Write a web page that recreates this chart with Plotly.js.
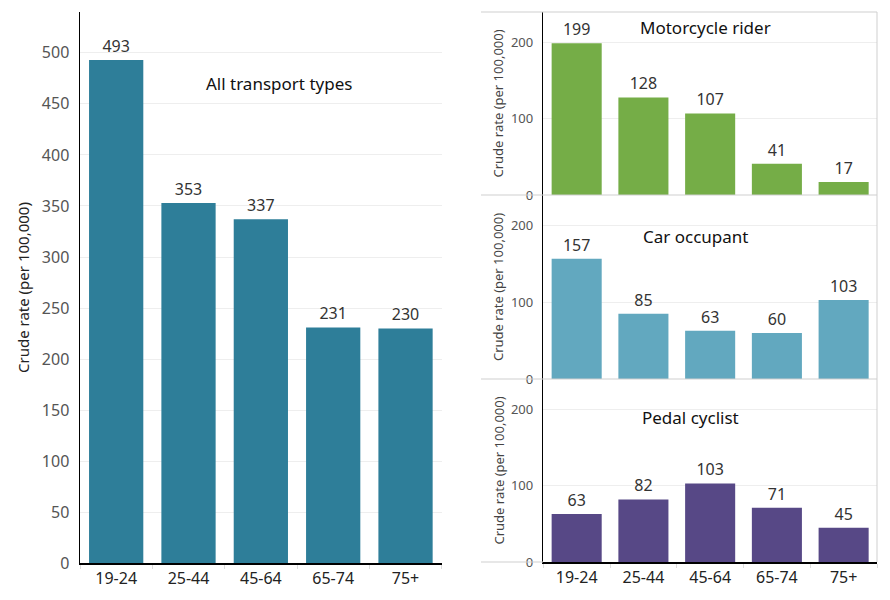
<!DOCTYPE html>
<html><head><meta charset="utf-8">
<script src="https://cdn.plot.ly/plotly-3.0.1.min.js"></script>
<style>body{margin:0;background:#fff;} #chart{width:890px;height:600px;}</style>
</head><body><div id="chart"></div>
<script>
// ---- data ----
const ageGroups = ['19-24', '25-44', '45-64', '65-74', '75+'];
const allTransport = [493, 353, 337, 231, 230];
const motorcycleRider = [199, 128, 107, 41, 17];
const carOccupant = [157, 85, 63, 60, 103];
const pedalCyclist = [63, 82, 103, 71, 45];
const leftTicks = [0, 50, 100, 150, 200, 250, 300, 350, 400, 450, 500];
const rightTicks = [0, 100, 200];
const panelTitles = ['All transport types', 'Motorcycle rider', 'Car occupant', 'Pedal cyclist'];
const yTitle = 'Crude rate (per 100,000)';

const FONT = 'Noto Sans, Open Sans, sans-serif';
const W = 890, H = 600;
const px = v => v / W;
const py = v => 1 - v / H;

function barTrace(y, color, xa, ya) {
  return {
    type: 'bar', x: ageGroups, y: y, xaxis: xa, yaxis: ya,
    marker: {color: color},
    text: y.map(String), textposition: 'outside',
    textfont: {family: FONT, size: 16, color: '#333'},
    cliponaxis: false, hoverinfo: 'skip', showlegend: false
  };
}

const data = [
  barTrace(allTransport, '#2E7E99', 'x', 'y'),
  barTrace(motorcycleRider, '#75AD47', 'x2', 'y2'),
  barTrace(carOccupant, '#62A8BF', 'x3', 'y3'),
  barTrace(pedalCyclist, '#574886', 'x4', 'y4')
];

const leftDom = [px(80), px(441.7)];
const rightDom = [px(543.3), px(877)];
const p1 = [py(195), py(12)];
const p2 = [py(379), py(195)];
const p3 = [py(562), py(379)];

function xAxis(domain, anchor, showLabels) {
  return {
    domain: domain, anchor: anchor, type: 'category', automargin: false,
    showticklabels: showLabels,
    tickfont: {family: FONT, size: 16, color: '#222'},
    ticks: showLabels ? 'outside' : '', tickson: 'boundaries', ticklen: 4, tickcolor: '#ddd',
    showline: showLabels, linecolor: '#000', linewidth: 1.5,
    showgrid: false, zeroline: false, fixedrange: true
  };
}
function yAxis(domain, anchor, range, ticks, fs) {
  return {
    domain: domain, anchor: anchor, range: range, automargin: false,
    tickvals: ticks, ticktext: ticks.map(String),
    tickfont: {family: FONT, size: fs, color: '#555'},
    ticks: '', ticklabelstandoff: 6,
    showline: true, linecolor: '#000', linewidth: 1.5,
    showgrid: true, gridcolor: '#eeeeee', gridwidth: 1,
    zeroline: false, fixedrange: true
  };
}

const gray = '#cfcfcf';
const shapes = [
  {type:'line', xref:'paper', yref:'paper', x0:px(481), x1:px(877), y0:py(12), y1:py(12), line:{color:gray, width:1}},
  {type:'line', xref:'paper', yref:'paper', x0:px(481), x1:px(877), y0:py(195), y1:py(195), line:{color:gray, width:1}},
  {type:'line', xref:'paper', yref:'paper', x0:px(481), x1:px(877), y0:py(379), y1:py(379), line:{color:gray, width:1}},
  {type:'line', xref:'paper', yref:'paper', x0:px(481), x1:px(543), y0:py(562), y1:py(562), line:{color:gray, width:1}},
  {type:'line', xref:'paper', yref:'paper', x0:px(877), x1:px(877), y0:py(12), y1:py(562), line:{color:gray, width:1}}
];

const titleFont = {family: FONT, size: 17, color: '#111'};
const annotations = [
  {text: panelTitles[0], xref:'x domain', yref:'y domain', x:0.55, y:0.871, showarrow:false, font:titleFont, xanchor:'center', yanchor:'middle'},
  {text: panelTitles[1], xref:'x2 domain', yref:'y2 domain', x:0.485, y:0.913, showarrow:false, font:titleFont, xanchor:'center', yanchor:'middle'},
  {text: panelTitles[2], xref:'x3 domain', yref:'y3 domain', x:0.455, y:0.777, showarrow:false, font:titleFont, xanchor:'center', yanchor:'middle'},
  {text: panelTitles[3], xref:'x4 domain', yref:'y4 domain', x:0.44, y:0.792, showarrow:false, font:titleFont, xanchor:'center', yanchor:'middle'},
  {text: yTitle, xref:'paper', yref:'paper', x:px(23), y:py(288), textangle:-90, showarrow:false, font:{family:FONT, size:15, color:'#222'}, xanchor:'center', yanchor:'middle'},
  {text: yTitle, xref:'paper', yref:'paper', x:px(498), y:(p1[0]+p1[1])/2, textangle:-90, showarrow:false, font:{family:FONT, size:13, color:'#444'}, xanchor:'center', yanchor:'middle'},
  {text: yTitle, xref:'paper', yref:'paper', x:px(498), y:(p2[0]+p2[1])/2, textangle:-90, showarrow:false, font:{family:FONT, size:13, color:'#444'}, xanchor:'center', yanchor:'middle'},
  {text: yTitle, xref:'paper', yref:'paper', x:px(498), y:(p3[0]+p3[1])/2, textangle:-90, showarrow:false, font:{family:FONT, size:13, color:'#444'}, xanchor:'center', yanchor:'middle'}
];

const layout = {
  width: W, height: H,
  margin: {l:0, r:0, t:0, b:0},
  paper_bgcolor: '#fff', plot_bgcolor: 'rgba(0,0,0,0)',
  bargap: 0.25,
  font: {family: FONT},
  xaxis: xAxis(leftDom, 'y', true),
  yaxis: yAxis([py(563.3), py(12)], 'x', [0, 540], leftTicks, 16),
  xaxis2: xAxis(rightDom, 'y2', false),
  yaxis2: yAxis(p1, 'x2', [0, 240], rightTicks, 13),
  xaxis3: xAxis(rightDom, 'y3', false),
  yaxis3: yAxis(p2, 'x3', [0, 240], rightTicks, 13),
  xaxis4: xAxis(rightDom, 'y4', true),
  yaxis4: yAxis(p3, 'x4', [0, 240], rightTicks, 13),
  shapes: shapes,
  annotations: annotations
};

Plotly.newPlot('chart', data, layout, {displayModeBar: false, staticPlot: true});
</script>
</body></html>
